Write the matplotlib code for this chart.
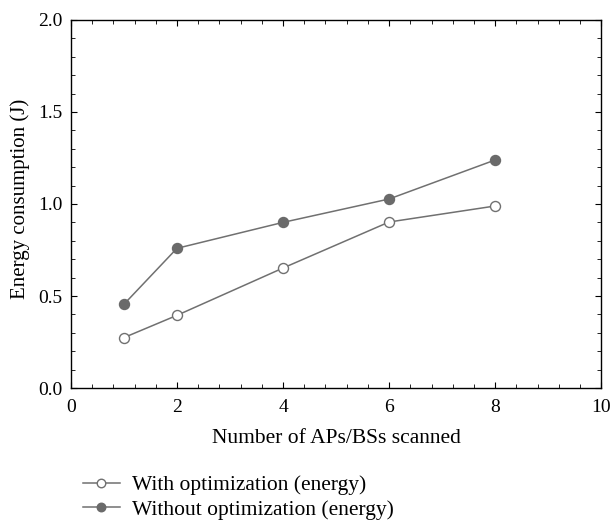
import matplotlib.pyplot as plt
from matplotlib.ticker import MultipleLocator

plt.rcParams['font.family'] = ['Liberation Serif', 'DejaVu Serif']

# data
aps_scanned = [1, 2, 4, 6, 8]
with_opt = [0.274, 0.395, 0.652, 0.902, 0.989]
without_opt = [0.455, 0.759, 0.900, 1.027, 1.239]
series_labels = ["With optimization (energy)", "Without optimization (energy)"]

line_color = '#707070'
fill_color = '#6a6a6a'

fig = plt.figure(figsize=(6.11, 5.23), dpi=100)
ax = fig.add_axes([0.116, 0.258, 0.868, 0.704])

ax.plot(aps_scanned, with_opt, color=line_color, lw=1.1, marker='o', ms=7.2,
        mfc='white', mec=line_color, mew=1.0, label=series_labels[0])
ax.plot(aps_scanned, without_opt, color=line_color, lw=1.1, marker='o', ms=7.2,
        mfc=fill_color, mec=fill_color, label=series_labels[1])

ax.set_xlim(0, 10)
ax.set_ylim(0, 2.0)
ax.xaxis.set_major_locator(MultipleLocator(2))
ax.xaxis.set_minor_locator(MultipleLocator(0.4))
ax.yaxis.set_major_locator(MultipleLocator(0.5))
ax.yaxis.set_minor_locator(MultipleLocator(0.1))
ax.yaxis.set_major_formatter(lambda v, p: f"{v:.1f}")
ax.tick_params(which='both', direction='in', top=True, right=True, labelsize=14)
ax.tick_params(which='major', length=4.5)
ax.tick_params(which='minor', length=3)
ax.tick_params(axis='x', pad=8)
ax.tick_params(axis='y', pad=6)
for s in ax.spines.values():
    s.set_linewidth(1.0)

ax.set_xlabel("Number of APs/BSs scanned", fontsize=15.5, labelpad=9)
ax.set_ylabel("Energy consumption (J)", fontsize=15, labelpad=6, y=0.515)

fig.legend(loc='center left', bbox_to_anchor=(0.104, 0.049), frameon=False,
           fontsize=15.5, handlelength=1.7, labelspacing=0.2, handletextpad=0.6,
           markerscale=0.85)

fig.savefig("out.png", dpi=100)
